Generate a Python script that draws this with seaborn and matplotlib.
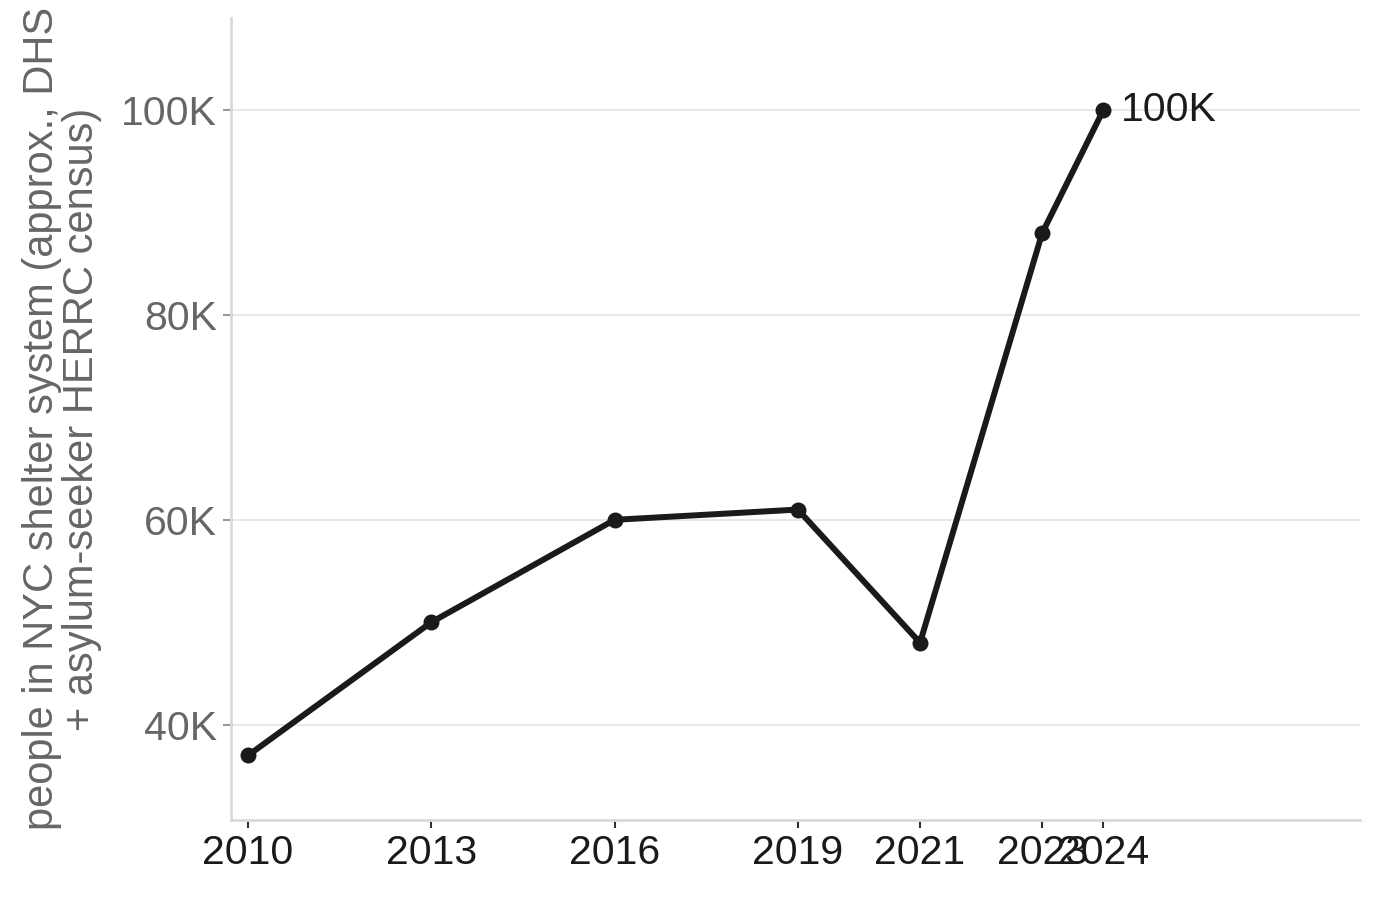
import matplotlib.pyplot as plt
import matplotlib.ticker as mticker
import seaborn as sns
import pandas as pd

years = [2010, 2013, 2016, 2019, 2021, 2023, 2024]
people = [37000, 50000, 60000, 61000, 48000, 88000, 100000]
ytick_vals = [40000, 60000, 80000, 100000]
ylabel = "people in NYC shelter system (approx., DHS\n+ asylum-seeker HERRC census)"

sns.set_style("white")
plt.rcParams["font.family"] = ["Liberation Sans", "DejaVu Sans"]

df = pd.DataFrame({"year": years, "people": people})

fig = plt.figure(figsize=(13.8, 8.99), dpi=100)
ax = fig.add_axes([0.1674, 0.088, 0.818, 0.892])

sns.lineplot(data=df, x="year", y="people", ax=ax, color="#1a1a1a",
             linewidth=4.3, marker="o", markersize=11.5, markeredgewidth=0)

ax.set_xlim(2009.72, 2028.2)
ax.set_ylim(30700, 109000)
ax.set_xticks(years)
ax.set_xticklabels([str(y) for y in years])
ax.set_yticks(ytick_vals)
ax.yaxis.set_major_formatter(mticker.FuncFormatter(lambda v, p: f"{int(v / 1000)}K"))

ax.grid(axis="y", color="#e8e8e8", linewidth=1.5)
ax.grid(axis="x", visible=False)
sns.despine(ax=ax)
for s in ["left", "bottom"]:
    ax.spines[s].set_color("#d9d9d9")
    ax.spines[s].set_linewidth(2)

ax.tick_params(axis="x", labelsize=29.5, labelcolor="#1a1a1a", length=6,
               width=1.5, color="#333333", pad=4, bottom=True)
ax.tick_params(axis="y", labelsize=29.5, labelcolor="#666666", length=6,
               width=1.5, color="#999999", pad=4, left=True)

ax.set_xlabel("")
ax.set_ylabel(ylabel, fontsize=30, color="#666666", labelpad=14, linespacing=1.0)

ax.annotate(f"{people[-1] // 1000}K", xy=(years[-1], people[-1]),
            xytext=(13, 0), textcoords="offset points", va="center",
            fontsize=29.5, color="#1a1a1a")

fig.savefig("out.png", dpi=100)
